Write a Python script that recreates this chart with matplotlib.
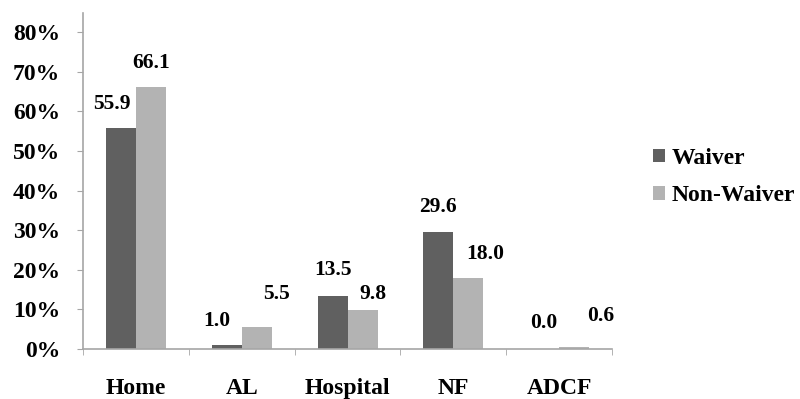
import numpy as np
import matplotlib.pyplot as plt
from matplotlib.ticker import PercentFormatter

categories = ['Home', 'AL', 'Hospital', 'NF', 'ADCF']
waiver = [55.9, 1.0, 13.5, 29.6, 0.0]
non_waiver = [66.1, 5.5, 9.8, 18.0, 0.6]

# label nudges in pixels (hand-placed in the original)
waiver_dx = [-9, -10, 0, 0, 0]
waiver_dy = [14, 14, 16, 15, 16]
non_waiver_dx = [0, 20, 10, 17, 27]
non_waiver_dy = [14, 23, 6, 14, 21]

dark = '#606060'
light = '#b3b3b3'
axis_gray = '#a6a6a6'

plt.rcParams['font.family'] = ['Liberation Serif', 'DejaVu Serif']
plt.rcParams['font.weight'] = 'bold'

fig = plt.figure(figsize=(8, 3.99), dpi=100)
ax = fig.add_axes([0.104, 0.1253, 0.661, 0.842])

x = np.arange(len(categories))
w = 0.284
b1 = ax.bar(x - w / 2, np.array(waiver) / 100, w, color=dark, label='Waiver')
b2 = ax.bar(x + w / 2, np.array(non_waiver) / 100, w, color=light, label='Non-Waiver')

for bars, vals, dxs, dys in [(b1, waiver, waiver_dx, waiver_dy),
                             (b2, non_waiver, non_waiver_dx, non_waiver_dy)]:
    for bar, v, dx, dy in zip(bars, vals, dxs, dys):
        ax.annotate(f'{v:.1f}', (bar.get_x() + bar.get_width() / 2, bar.get_height()),
                    xytext=(dx, dy), textcoords='offset pixels',
                    ha='center', va='bottom', fontsize=15.5, fontweight='bold')

ax.set_xlim(-0.5, len(categories) - 0.5)
ax.set_ylim(0, 0.848)
ax.set_yticks(np.arange(0, 0.81, 0.1))
ax.yaxis.set_major_formatter(PercentFormatter(1.0, decimals=0))

ax.set_xticks(x)
ax.set_xticklabels(categories)
ax.set_xticks(np.arange(-0.5, len(categories), 1), minor=True)
ax.tick_params(axis='x', which='major', length=0, pad=21, labelsize=17)
ax.tick_params(axis='x', which='minor', length=4, color=axis_gray, direction='out')
ax.tick_params(axis='y', length=4.5, color=axis_gray, pad=12, labelsize=17)

for s in ['top', 'right']:
    ax.spines[s].set_visible(False)
for s in ['left', 'bottom']:
    ax.spines[s].set_color(axis_gray)
    ax.spines[s].set_linewidth(1.2)

fig.legend(loc='center left', bbox_to_anchor=(0.816, 0.556), frameon=False,
           prop={'size': 17, 'weight': 'bold'}, handlelength=0.5, handleheight=0.5,
           handletextpad=0.3, labelspacing=0.7, borderaxespad=0, borderpad=0)

fig.savefig('out.png', dpi=100)
